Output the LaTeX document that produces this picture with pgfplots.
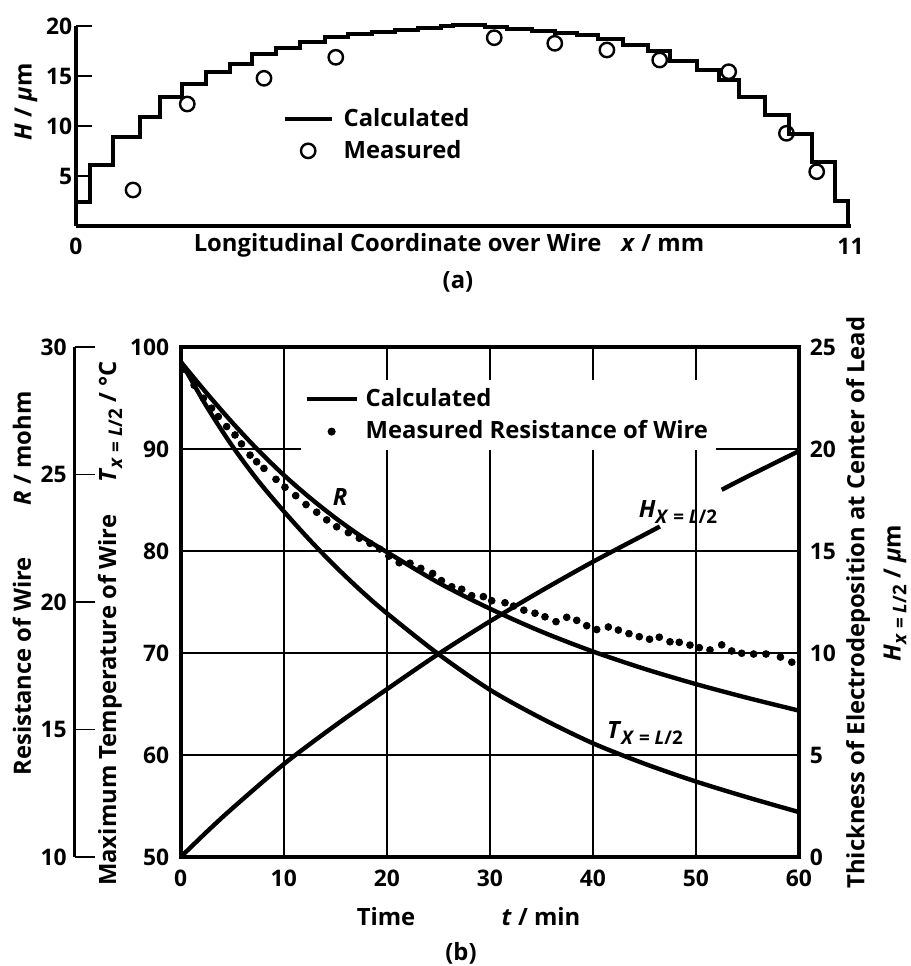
\documentclass[border=0pt]{standalone}
\usepackage{fontspec}
\setmainfont{Open Sans}
\usepackage{pgfplots}
\pgfplotsset{compat=1.18}
\newcommand{\sub}[1]{\raisebox{-0.45ex}{\fontsize{9.4}{10}\selectfont #1}}
\begin{document}%
\bfseries\fontsize{11.9}{14}\selectfont%
\begin{tikzpicture}
\path[use as bounding box] (0,0) rectangle (455.5pt,483pt);
% ---------------- (a) ----------------
\begin{axis}[
  at={(38pt,370pt)}, anchor=south west, scale only axis,
  width=387.25pt, height=100pt,
  xmin=0, xmax=11, ymin=0, ymax=20,
  axis x line*=bottom, axis y line*=left,
  axis line style={line width=1.75pt},
  xtick={0,11}, ytick={5,10,15,20},
  xtick style={draw=none},
  ytick style={line width=0.8pt, black},
  tick align=inside, major tick length=8pt,
  tick label style={font=\fontsize{11.4}{13}\selectfont},
  xticklabel style={yshift=-1.8pt},
  yticklabel style={xshift=2.2pt},
  /pgf/number format/assume math mode=true,
  clip=false,
  legend image code/.code={\draw[mark repeat=2,mark phase=2,#1] plot coordinates {(0pt,0pt) (11.75pt,0pt) (23.5pt,0pt)};},
  legend style={at={(axis cs:2.93,12.2)}, anchor=north west, draw=none, fill=none, inner sep=0pt, row sep=1pt, column sep=3pt, nodes={inner sep=2pt}},
  legend cell align=left,
]
\addplot[const plot, line width=2pt, black] table {
x H
0 0
0 2.43
0.2 6.1
0.53 8.93
0.91 10.9
1.2 12.87
1.51 14.2
1.84 15.37
2.19 16.2
2.5 17.17
2.84 17.77
3.18 18.37
3.53 18.93
3.86 19.15
4.2 19.38
4.53 19.55
4.86 19.8
5.19 19.95
5.36 20.1
5.81 19.87
6.12 19.7
6.47 19.53
6.8 19.33
7.11 19.07
7.42 18.72
7.77 18.1
8.12 17.45
8.44 16.45
8.82 15.6
9.13 14.6
9.41 12.93
9.79 11.1
10.12 9.2
10.45 6.37
10.78 2.53
10.96 0
};
\addlegendentry{Calculated}
\addplot[only marks, mark=o, mark size=3.6pt, mark options={line width=1.2pt, black}] table {
x H
0.81 3.6
1.58 12.2
2.67 14.77
3.69 16.87
5.94 18.83
6.80 18.27
7.54 17.6
8.29 16.6
9.27 15.43
10.09 9.27
10.52 5.43
};
\addlegendentry{Measured}
\end{axis}
% ---------------- (b) main: temperature ----------------
\begin{axis}[
  at={(90.35pt,54.5pt)}, anchor=south west, scale only axis,
  width=309.15pt, height=255pt,
  xmin=0, xmax=60, ymin=50, ymax=100,
  xtick={0,10,...,60}, ytick={50,60,...,100},
  grid=major, major grid style={black, line width=0.9pt},
  axis line style={line width=2pt},
  tick style={draw=none},
  tick label style={font=\fontsize{11.4}{13}\selectfont},
  xticklabel style={yshift=-2.3pt},
  yticklabel style={xshift=-1.6pt},
  /pgf/number format/assume math mode=true,
  legend image code/.code={\draw[mark repeat=2,mark phase=2,#1] plot coordinates {(0pt,0pt) (12.5pt,0pt) (25pt,0pt)};},
  legend style={at={(axis cs:11.6,96.8)}, anchor=north west, draw=none, fill=white, inner sep=2pt, row sep=1.5pt, column sep=1.5pt, nodes={inner sep=2pt}},
  legend cell align=left,
]
\addplot[smooth, line width=2.2pt, black, forget plot] table {
t T
0 98.6
2.5 94.2
5 90.3
7.5 86.9
10 83.9
12.5 81.1
15 78.5
17.5 76.1
20 73.9
25 69.9
30 66.4
35 63.6
40 61.15
45 59.15
50 57.4
55 55.85
60 54.4
};
\addlegendimage{line width=2pt, black}
\addlegendentry{Calculated}
\addlegendimage{only marks, mark=*, mark size=1.8pt, black}
\addlegendentry{Measured Resistance of Wire}
\end{axis}
% ---------------- (b) right: thickness ----------------
\begin{axis}[
  at={(90.35pt,54.5pt)}, anchor=south west, scale only axis,
  width=309.15pt, height=255pt,
  xmin=0, xmax=60, ymin=0, ymax=25,
  axis x line=none, axis y line*=right,
  axis line style={line width=2pt},
  ytick={0,5,...,25}, tick style={draw=none},
  tick label style={font=\fontsize{11.4}{13}\selectfont},
  yticklabel style={xshift=1.3pt},
  /pgf/number format/assume math mode=true,
]
\addplot[smooth, line width=2.2pt, black] table {
t H
0 0
2.5 1.22
5 2.38
10 4.55
15 6.45
20 8.22
25 9.95
30 11.55
35 13.05
40 14.47
45 15.8
46.5 16.2
};
\addplot[smooth, line width=2.2pt, black] table {
t H
52.5 18.0
55 18.65
60 19.9
};
\end{axis}
% ---------------- (b) outer left: resistance ----------------
\begin{axis}[
  at={(90.35pt,54.5pt)}, anchor=south west, scale only axis,
  width=309.15pt, height=255pt,
  xmin=0, xmax=60, ymin=10, ymax=30,
  axis x line=none, axis y line*=left,
  y axis line style={xshift=-52.85pt, line width=1.5pt},
  ytick={10,15,...,30},
  tick align=inside, major tick length=10pt,
  ytick style={xshift=-52.85pt, line width=0.8pt, black},
  tick label style={font=\fontsize{11.4}{13}\selectfont},
  yticklabel style={xshift=-52.85pt},
  /pgf/number format/assume math mode=true,
]
\addplot[smooth, line width=2.2pt, black] table {
t R
0 29.42
2.5 28.20
5 27.04
7.5 25.96
10 24.98
12.5 24.10
15 23.30
17.5 22.58
20 21.96
25 20.76
30 19.74
35 18.84
40 18.06
45 17.38
50 16.78
55 16.24
60 15.74
};
\addplot[only marks, mark=*, mark size=1.7pt, black] table {
t R
0.4 29.12
1.3 28.5
2.2 27.99
3.0 27.6
3.65 27.27
4.46 26.88
5.27 26.55
5.9 26.2
6.73 25.76
7.37 25.5
8.08 25.24
9.25 24.81
10.12 24.5
11.16 24.17
12.16 23.82
13.2 23.52
14.17 23.22
15.14 22.95
16.27 22.72
17.33 22.5
18.37 22.3
19.3 22.08
20.2 21.8
21.2 21.54
22.25 21.52
23.3 21.32
24.45 21.12
25.3 20.84
26.3 20.6
27.27 20.5
28.24 20.25
29.37 20.21
30.18 20.05
31.47 19.97
32.3 19.84
33.3 19.68
34.38 19.56
35.35 19.42
36.42 19.23
37.46 19.4
38.43 19.28
39.4 19.07
40.37 18.92
41.5 19.02
42.47 18.9
43.5 18.76
44.5 18.64
45.5 18.54
46.44 18.62
47.48 18.44
48.38 18.42
49.42 18.31
50.33 18.21
51.36 18.12
52.5 18.32
53.47 18.08
54.44 17.99
55.6 17.96
56.8 17.96
58.2 17.84
59.3 17.64
};
\end{axis}
% ---------------- text ----------------
\begin{scope}[x=0.5pt, y=-0.5pt, yshift=483pt]
\node[rotate=90] at (26,102) {\textit{H} / \textit{µ}m};
\node at (449,245) {Longitudinal Coordinate over Wire\hspace{10pt}\textit{x} / mm};
\node at (458,282) {(a)};
\node[rotate=90] at (22,583.5) {Resistance of Wire\hspace{26pt}\textit{R} / mohm};
\node[rotate=90] at (110,623.5) {Maximum Temperature of Wire\hspace{16pt}\textit{T}\sub{\textit{x} = \textit{L}/2} / °C};
\node[rotate=90, anchor=west, inner sep=0pt] at (858,889) {Thickness of Electrodeposition at Center of Lead};
\node[rotate=90, inner sep=0pt] at (895,593) {\textit{H}\sub{\textit{x} = \textit{L}/2} / \textit{µ}m};
\node at (386,917) {Time};
\node at (541,917) {\textit{t} / min};
\node at (461,953) {(b)};
\node at (340,497) {\textit{R}};
\node at (678,512) {\textit{H}\sub{\textit{X} = \textit{L}/2}};
\node at (645,733) {\textit{T}\sub{\textit{X} = \textit{L}/2}};
\end{scope}
\end{tikzpicture}
\end{document}
